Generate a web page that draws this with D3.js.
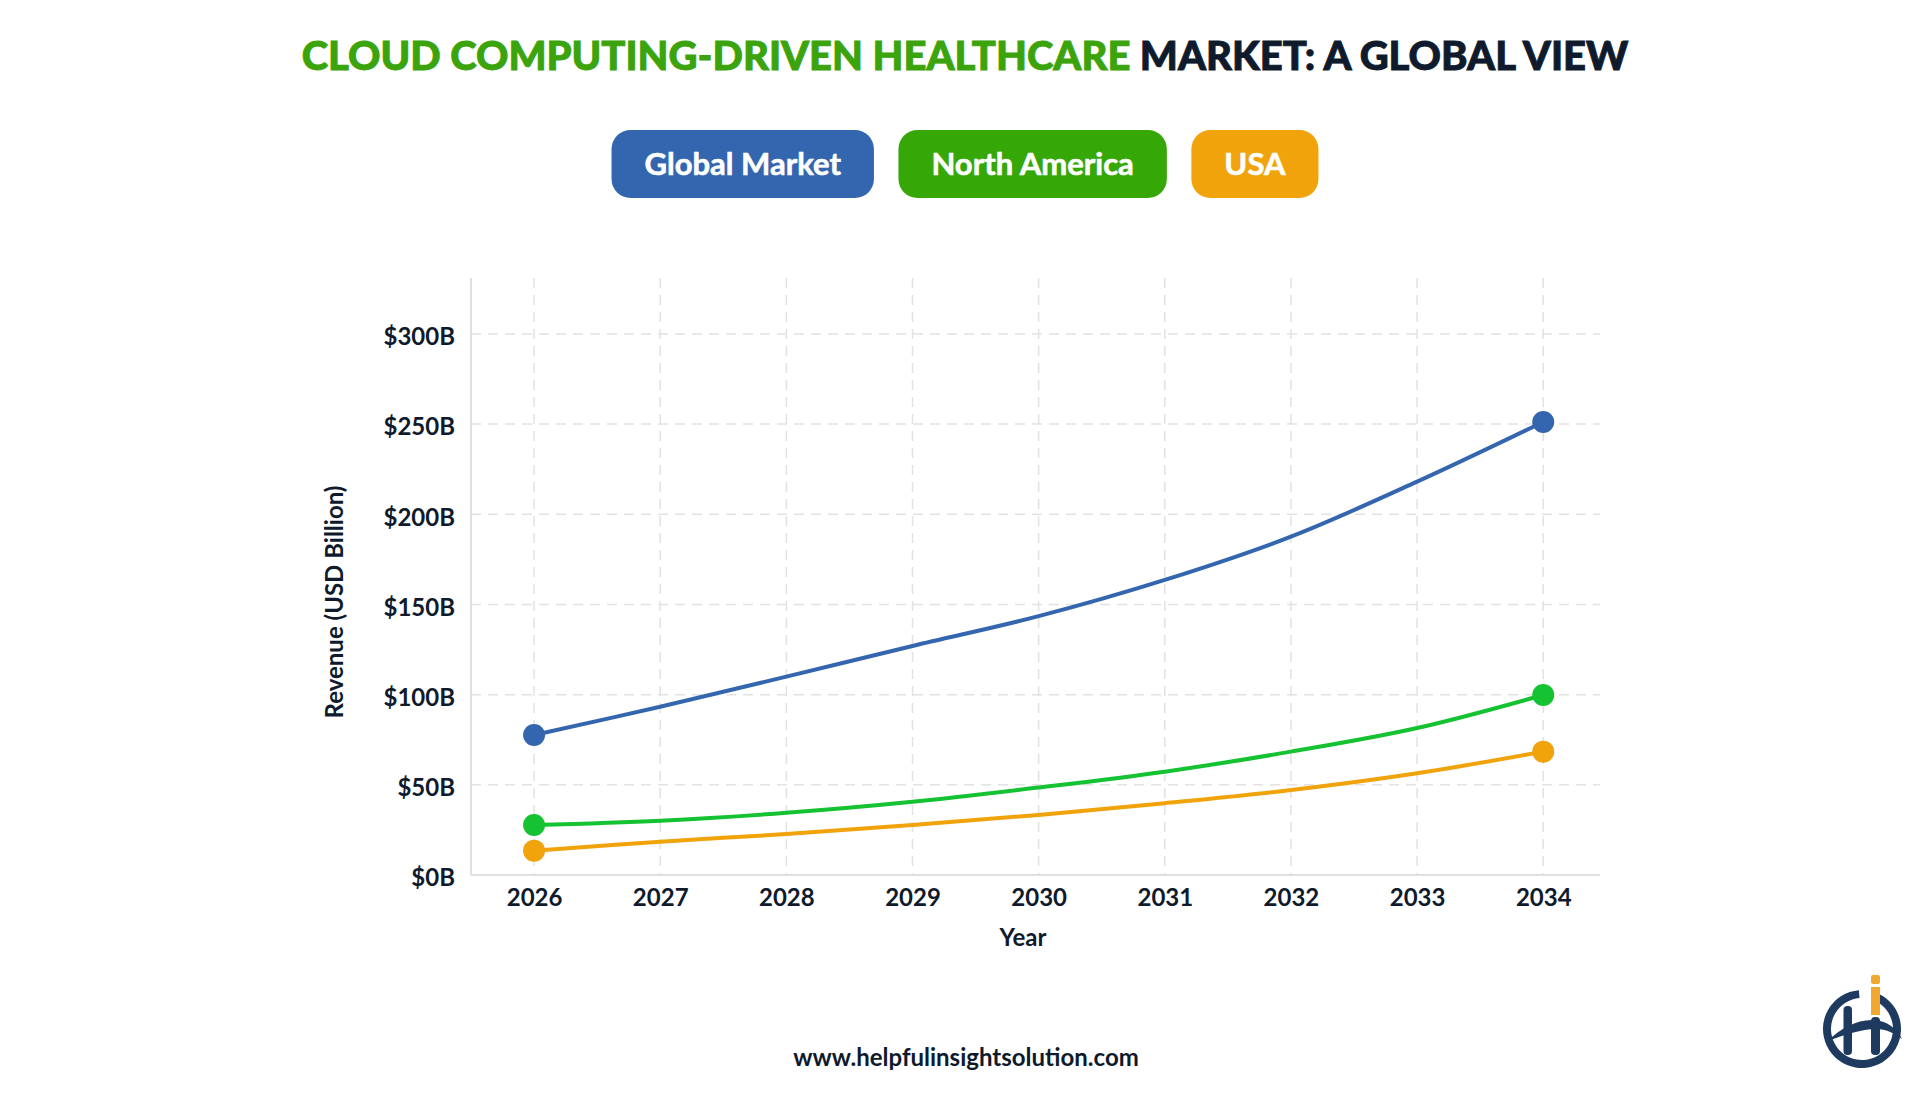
<!DOCTYPE html>
<html>
<head>
<meta charset="utf-8">
<script src="https://cdn.jsdelivr.net/npm/d3@7"></script>
<style>
  body { margin: 0; background: #fff; }
  svg { display: block; font-family: Lato, "Open Sans", sans-serif; }
</style>
</head>
<body>
<script>
// values (USD billion)
var years = [2026, 2027, 2028, 2029, 2030, 2031, 2032, 2033, 2034];
var globalMarket = [77.6, 93.3, 110, 127, 143.5, 163.6, 187.6, 218.1, 251.2];
var northAmerica = [27.7, 30.1, 34.5, 40.6, 48.5, 57.3, 68.4, 81.5, 99.8];
var usa = [13.5, 18.5, 22.7, 27.7, 33.3, 39.8, 47.1, 56.4, 68.4];
var seriesNames = ["Global Market", "North America", "USA"];
var yTicks = [0, 50, 100, 150, 200, 250, 300];

var W = 1930, H = 1098;
var lineColors = ["#3366ae", "#14c232", "#f0a30a"];
var chipColors = ["#3366ae", "#35a808", "#f0a30a"];
var navy = "#0f1b2d";

var svg = d3.select("body").append("svg")
    .attr("width", W)
    .attr("height", H);

// title
var title = svg.append("text")
    .attr("x", 965)
    .attr("y", 70)
    .attr("text-anchor", "middle")
    .attr("font-size", 40)
    .attr("font-weight", 900)
    .attr("stroke-width", 0.9);
title.append("tspan").attr("fill", "#3ba40c").attr("stroke", "#3ba40c").text("CLOUD COMPUTING-DRIVEN HEALTHCARE");
title.append("tspan").attr("fill", navy).attr("stroke", navy).text(" MARKET: A GLOBAL VIEW");

// legend chips
var legend = svg.append("g");
var chips = legend.selectAll("g")
    .data(seriesNames)
    .enter().append("g");
chips.append("rect")
    .attr("fill", function(d, i) { return chipColors[i]; })
    .attr("rx", 19).attr("ry", 19)
    .attr("y", 130)
    .attr("height", 68);
chips.append("text")
    .attr("fill", "#fff")
    .attr("stroke", "#fff")
    .attr("stroke-width", 0.6)
    .attr("font-size", 31)
    .attr("font-weight", 700)
    .attr("text-anchor", "middle")
    .attr("y", 175)
    .text(function(d) { return d; });

var pad = 33, gap = 24.5;
var widths = [];
chips.select("text").each(function() { widths.push(this.getComputedTextLength() + pad * 2); });
var total = d3.sum(widths) + gap * (widths.length - 1);
var cx = 965 - total / 2;
chips.each(function(d, i) {
    var g = d3.select(this);
    g.select("rect").attr("x", cx).attr("width", widths[i]);
    g.select("text").attr("x", cx + widths[i] / 2);
    cx += widths[i] + gap;
});

// plot area
var pL = 471, pR = 1600, pT = 278, pB = 875;

var x = d3.scaleLinear()
    .domain([2025.5, 2034.45])
    .range([pL, pR]);
var y = d3.scaleLinear()
    .domain([0, 331])
    .range([pB, pT]);

// grid
var grid = svg.append("g")
    .attr("stroke", "#e2e2e2")
    .attr("stroke-width", 1.5)
    .attr("stroke-dasharray", "10,7");
grid.selectAll(".vg")
    .data(years)
    .enter().append("line")
    .attr("x1", function(d) { return x(d); })
    .attr("x2", function(d) { return x(d); })
    .attr("y1", pT).attr("y2", pB);
grid.selectAll(".hg")
    .data(yTicks.slice(1))
    .enter().append("line")
    .attr("x1", pL).attr("x2", pR)
    .attr("y1", function(d) { return y(d); })
    .attr("y2", function(d) { return y(d); });

// axes
var yAxis = svg.append("g")
    .attr("transform", "translate(" + pL + ",0)")
    .call(d3.axisLeft(y).tickValues(yTicks).tickSize(0).tickPadding(16)
        .tickFormat(function(d) { return "$" + d + "B"; }));
var xAxis = svg.append("g")
    .attr("transform", "translate(0," + pB + ")")
    .call(d3.axisBottom(x).tickValues(years).tickSize(0).tickPadding(14)
        .tickFormat(d3.format("d")));

[yAxis, xAxis].forEach(function(a) {
    a.select(".domain").attr("stroke", "#e0e0e0").attr("stroke-width", 2);
    a.selectAll("text")
        .attr("fill", navy)
        .attr("font-family", "Lato, sans-serif")
        .attr("font-size", 24)
        .attr("font-weight", 700);
});
yAxis.selectAll("text").attr("dy", "0.45em");
yAxis.select(".domain").attr("d", "M0," + pT + "V" + pB);
xAxis.select(".domain").attr("d", "M" + pL + ",0H" + pR);

// axis titles
svg.append("text")
    .attr("x", 1023).attr("y", 946)
    .attr("text-anchor", "middle")
    .attr("fill", navy)
    .attr("font-size", 24)
    .attr("font-weight", 700)
    .text("Year");
svg.append("text")
    .attr("transform", "translate(343,602) rotate(-90)")
    .attr("text-anchor", "middle")
    .attr("fill", navy)
    .attr("font-size", 24)
    .attr("font-weight", 700)
    .text("Revenue (USD Billion)");

// lines
var allSeries = [globalMarket, northAmerica, usa];
var line = d3.line()
    .x(function(d, i) { return x(years[i]); })
    .y(function(d) { return y(d); })
    .curve(d3.curveCatmullRom.alpha(0.5));

svg.append("g").selectAll("path")
    .data(allSeries)
    .enter().append("path")
    .attr("fill", "none")
    .attr("stroke", function(d, i) { return lineColors[i]; })
    .attr("stroke-width", 4)
    .attr("d", line);

// end markers
allSeries.forEach(function(s, i) {
    var ends = [0, s.length - 1];
    svg.append("g").selectAll("circle")
        .data(ends)
        .enter().append("circle")
        .attr("cx", function(k) { return x(years[k]); })
        .attr("cy", function(k) { return y(s[k]); })
        .attr("r", 11)
        .attr("fill", lineColors[i]);
});

// footer
svg.append("text")
    .attr("x", 966).attr("y", 1066)
    .attr("text-anchor", "middle")
    .attr("fill", navy)
    .attr("font-size", 24)
    .attr("font-weight", 700)
    .text("www.helpfulinsightsolution.com");

// logo
var logo = svg.append("g").attr("transform", "translate(1862,1029)");
var logoNavy = "#1e3a5f";
logo.append("path")
    .attr("d", d3.arc().innerRadius(31).outerRadius(39).startAngle(0.42).endAngle(2 * Math.PI - 0.08)())
    .attr("fill", logoNavy);
logo.append("rect").attr("x", -18.5).attr("y", -23).attr("width", 8.5).attr("height", 49).attr("rx", 4).attr("fill", logoNavy);
logo.append("rect").attr("x", 9).attr("y", -12).attr("width", 9).attr("height", 38).attr("rx", 4).attr("fill", logoNavy);
logo.append("rect").attr("x", 9).attr("y", -42).attr("width", 9).attr("height", 28).attr("fill", "#f0a830");
logo.append("rect").attr("x", 9).attr("y", -54).attr("width", 9).attr("height", 9).attr("rx", 2).attr("fill", "#f0a830");
logo.append("path")
    .attr("d", "M-34,12 C-20,-2 0,-12 18,-8 C28,-6 36,2 40,10 C32,4 24,0 14,0 C0,0 -18,6 -34,12 Z")
    .attr("fill", logoNavy);
</script>
</body>
</html>
